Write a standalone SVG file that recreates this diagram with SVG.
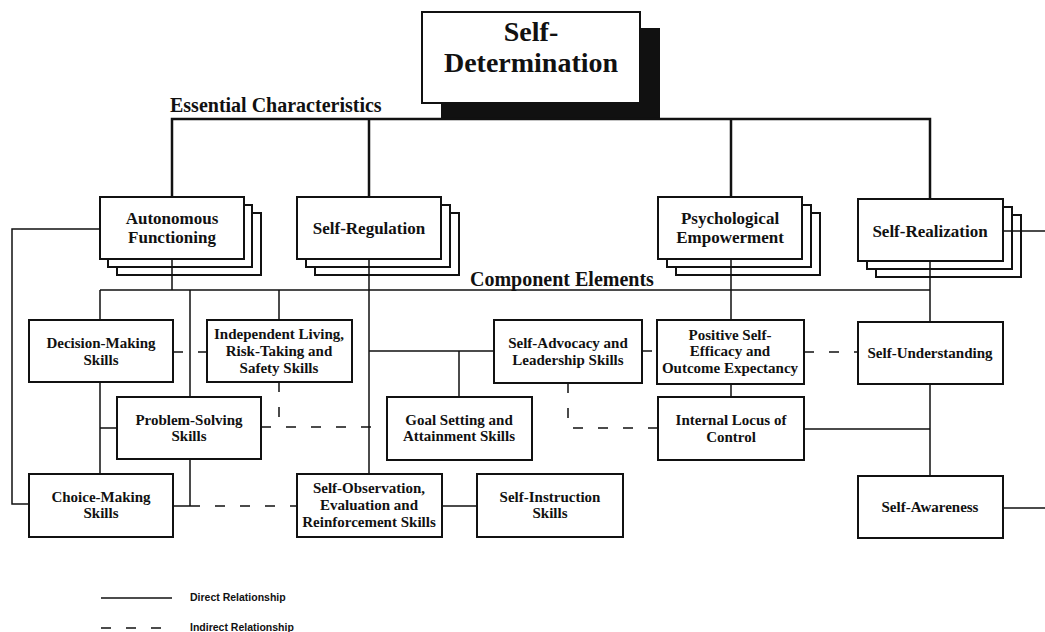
<svg xmlns="http://www.w3.org/2000/svg" width="1045" height="632" viewBox="0 0 1045 632">
<style>
.box{fill:#fff;stroke:#111;stroke-width:2}
.t{font-family:"Liberation Serif","Times New Roman",serif;font-weight:bold;fill:#111;text-anchor:middle}
.c{font-size:15px}
.h{font-size:17px}
.lab{font-size:20px;text-anchor:start}
.ln{fill:none;stroke:#111;stroke-width:1.5}
.thick{stroke-width:2.5}
.dash{stroke-dasharray:10 15}
.leg{font-family:"Liberation Sans",Arial,sans-serif;font-weight:bold;font-size:10.5px;fill:#111}
</style>
<rect width="1045" height="632" fill="#fff"/>

<g id="self-determination">
<rect x="441" y="28" width="219" height="91" fill="#111"/>
<rect x="422" y="12" width="218" height="91" class="box" stroke-width="2.5"/>
<text class="t" font-size="28" x="531" y="41">Self-</text>
<text class="t" font-size="28" x="531" y="72">Determination</text>
</g>

<text id="label-essential" class="t lab" x="170" y="112">Essential Characteristics</text>
<text id="label-component" class="t lab" x="470" y="286">Component Elements</text>

<g id="autonomous-functioning">
<rect x="117" y="213" width="144" height="62" class="box"/>
<rect x="108" y="205" width="144" height="62" class="box"/>
<rect x="100" y="197" width="144" height="62" class="box"/>
<text class="t h" x="172" y="224">Autonomous</text>
<text class="t h" x="172" y="243">Functioning</text>
</g>

<g id="self-regulation">
<rect x="315" y="213" width="144" height="62" class="box"/>
<rect x="306" y="205" width="144" height="62" class="box"/>
<rect x="297" y="197" width="144" height="62" class="box"/>
<text class="t h" x="369" y="234">Self-Regulation</text>
</g>

<g id="psychological-empowerment">
<rect x="676" y="213" width="144" height="62" class="box"/>
<rect x="667" y="205" width="144" height="62" class="box"/>
<rect x="658" y="197" width="144" height="62" class="box"/>
<text class="t h" x="730" y="224">Psychological</text>
<text class="t h" x="730" y="243">Empowerment</text>
</g>

<g id="self-realization">
<rect x="876" y="215" width="145" height="62" class="box"/>
<rect x="867" y="207" width="145" height="62" class="box"/>
<rect x="858" y="199" width="145" height="62" class="box"/>
<text class="t h" x="930" y="237">Self-Realization</text>
</g>

<g id="decision-making">
<rect x="29" y="320" width="144" height="62" class="box"/>
<text class="t c" x="101" y="348">Decision-Making</text>
<text class="t c" x="101" y="365">Skills</text>
</g>

<g id="independent-living">
<rect x="207" y="320" width="145" height="62" class="box"/>
<text class="t c" x="279" y="339">Independent Living,</text>
<text class="t c" x="279" y="356">Risk-Taking and</text>
<text class="t c" x="279" y="373">Safety Skills</text>
</g>

<g id="problem-solving">
<rect x="117" y="397" width="144" height="62" class="box"/>
<text class="t c" x="189" y="425">Problem-Solving</text>
<text class="t c" x="189" y="441">Skills</text>
</g>

<g id="choice-making">
<rect x="29" y="474" width="144" height="63" class="box"/>
<text class="t c" x="101" y="502">Choice-Making</text>
<text class="t c" x="101" y="518">Skills</text>
</g>

<g id="self-observation">
<rect x="297" y="474" width="145" height="63" class="box"/>
<text class="t c" x="369" y="493">Self-Observation,</text>
<text class="t c" x="369" y="510">Evaluation and</text>
<text class="t c" x="369" y="527">Reinforcement Skills</text>
</g>

<g id="self-instruction">
<rect x="477" y="474" width="146" height="63" class="box"/>
<text class="t c" x="550" y="502">Self-Instruction</text>
<text class="t c" x="550" y="518">Skills</text>
</g>

<g id="goal-setting">
<rect x="387" y="397" width="145" height="63" class="box"/>
<text class="t c" x="459" y="425">Goal Setting and</text>
<text class="t c" x="459" y="441">Attainment Skills</text>
</g>

<g id="self-advocacy">
<rect x="494" y="320" width="148" height="63" class="box"/>
<text class="t c" x="568" y="348">Self-Advocacy and</text>
<text class="t c" x="568" y="365">Leadership Skills</text>
</g>

<g id="positive-self-efficacy">
<rect x="657" y="320" width="147" height="64" class="box"/>
<text class="t c" x="730" y="340">Positive Self-</text>
<text class="t c" x="730" y="356">Efficacy and</text>
<text class="t c" x="730" y="373">Outcome Expectancy</text>
</g>

<g id="internal-locus">
<rect x="658" y="397" width="146" height="63" class="box"/>
<text class="t c" x="731" y="425">Internal Locus of</text>
<text class="t c" x="731" y="442">Control</text>
</g>

<g id="self-understanding">
<rect x="858" y="322" width="145" height="62" class="box"/>
<text class="t c" x="930" y="358">Self-Understanding</text>
</g>

<g id="self-awareness">
<rect x="858" y="476" width="145" height="62" class="box"/>
<text class="t c" x="930" y="512">Self-Awareness</text>
</g>

<g id="connectors">
<path class="ln thick" d="M172,197 V119 H930 V199 M369,119 V197 M731,119 V197"/>
<path class="ln" d="M172,259 V290 M100,290 H930 M100,290 V320 M190,290 V397 M279,290 V320
 M369,259 V474 M731,259 V320 M930,261 V322 M930,384 V476
 M100,382 V474 M100,428 H117 M190,459 V506 M173,506 H190 M100,229 H12 V504 H29
 M369,351 H494 M459,351 V397 M442,506 H477 M731,384 V397 M804,429 H930
 M1003,231 H1045 M1003,508 H1045"/>
<path class="ln dash" d="M173,352 H207 M279,382 V427 M261,427 H387 M190,506 H297 M642,351 H657 M568,383 V428 H658 M804,352 H858"/>
</g>

<g id="legend">
<path class="ln" d="M101,598 H172"/>
<path class="ln dash" d="M101,628 H172"/>
<text class="leg" x="190" y="601">Direct Relationship</text>
<text class="leg" x="190" y="631">Indirect Relationship</text>
</g>
</svg>
